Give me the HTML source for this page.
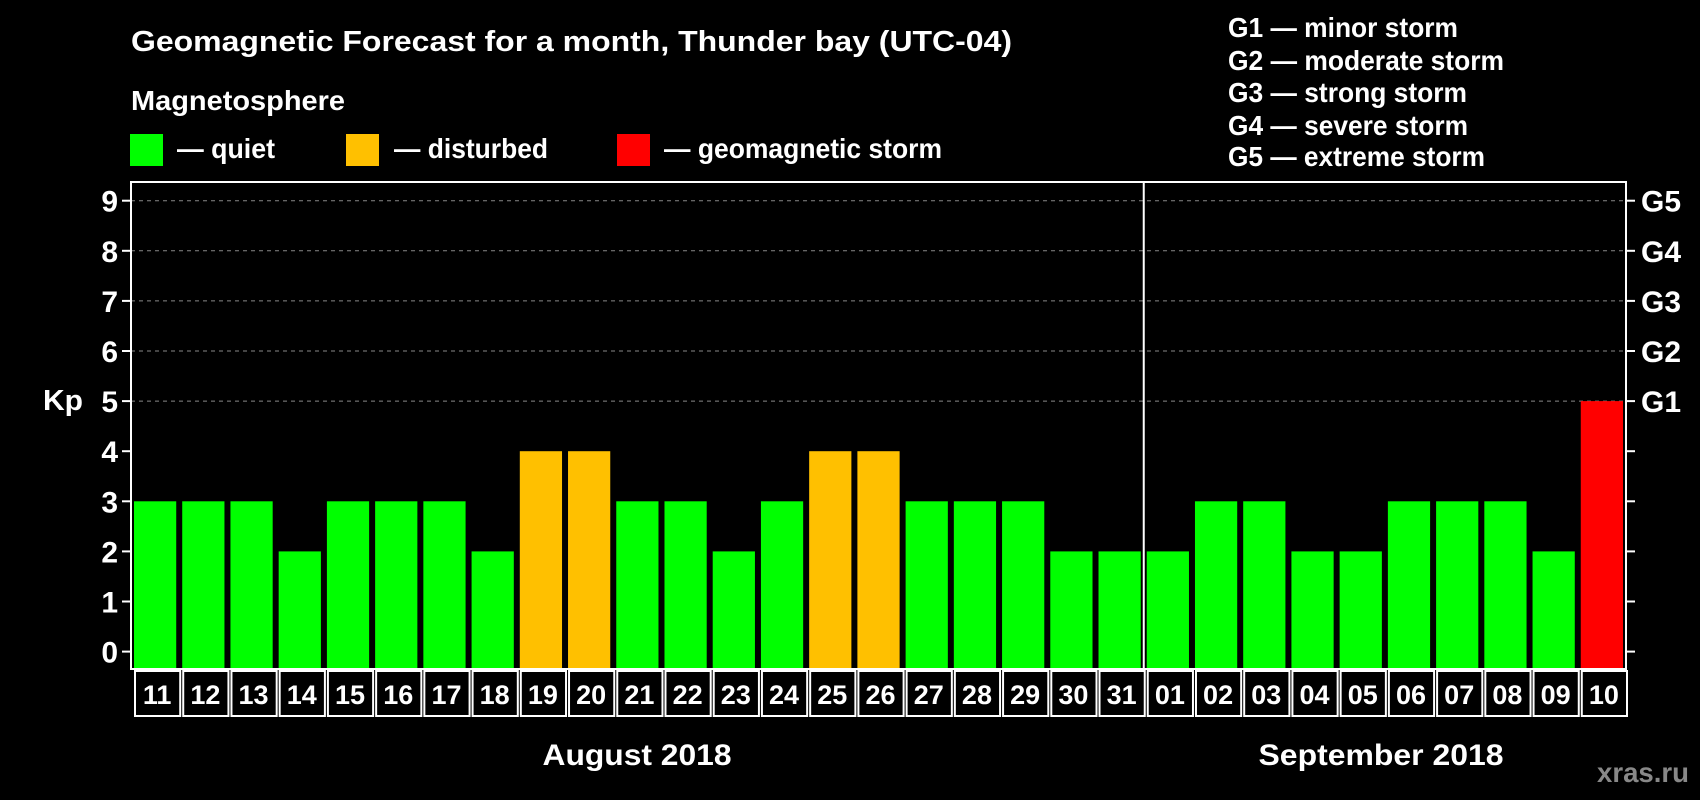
<!DOCTYPE html>
<html><head><meta charset="utf-8"><style>
html,body{margin:0;padding:0;background:#000;}
svg{display:block;font-family:"Liberation Sans",Arial,sans-serif;font-weight:bold;}
</style></head><body>
<svg id="chart" width="1700" height="800" viewBox="0 0 1700 800">
<rect x="0" y="0" width="1700" height="800" fill="#000"/>
<text x="131" y="51" fill="#fff" font-size="29" textLength="881" lengthAdjust="spacingAndGlyphs">Geomagnetic Forecast for a month, Thunder bay (UTC-04)</text>
<text x="131" y="110" fill="#fff" font-size="28" textLength="214" lengthAdjust="spacingAndGlyphs">Magnetosphere</text>
<g><rect x="130" y="134" width="33" height="32" fill="#00ff00"/><text x="177" y="158" fill="#fff" font-size="28" textLength="98" lengthAdjust="spacingAndGlyphs">— quiet</text></g>
<g><rect x="346" y="134" width="33" height="32" fill="#ffc000"/><text x="394" y="158" fill="#fff" font-size="28" textLength="154" lengthAdjust="spacingAndGlyphs">— disturbed</text></g>
<g><rect x="617" y="134" width="33" height="32" fill="#ff0000"/><text x="664" y="158" fill="#fff" font-size="28" textLength="278" lengthAdjust="spacingAndGlyphs">— geomagnetic storm</text></g>
<g fill="#fff" font-size="28">
<text x="1228" y="37" textLength="230" lengthAdjust="spacingAndGlyphs">G1 — minor storm</text>
<text x="1228" y="70" textLength="276" lengthAdjust="spacingAndGlyphs">G2 — moderate storm</text>
<text x="1228" y="102" textLength="239" lengthAdjust="spacingAndGlyphs">G3 — strong storm</text>
<text x="1228" y="135" textLength="240" lengthAdjust="spacingAndGlyphs">G4 — severe storm</text>
<text x="1228" y="166" textLength="257" lengthAdjust="spacingAndGlyphs">G5 — extreme storm</text>
</g>
<text x="43" y="410" fill="#fff" font-size="29" textLength="40" lengthAdjust="spacingAndGlyphs">Kp</text>
<g id="grid"></g><g id="bars"></g><g id="axes"></g>
<text x="637" y="765" fill="#fff" font-size="30" text-anchor="middle" textLength="189" lengthAdjust="spacingAndGlyphs">August 2018</text>
<text x="1381" y="765" fill="#fff" font-size="30" text-anchor="middle" textLength="245" lengthAdjust="spacingAndGlyphs">September 2018</text>
<text x="1689" y="782" fill="#888" font-size="28" text-anchor="end" textLength="92" lengthAdjust="spacingAndGlyphs">xras.ru</text>
</svg>
<script>
const days=["11","12","13","14","15","16","17","18","19","20","21","22","23","24","25","26","27","28","29","30","31","01","02","03","04","05","06","07","08","09","10"];
const kpValues=[3,3,3,2,3,3,3,2,4,4,3,3,2,3,4,4,3,3,3,2,2,2,3,3,2,2,3,3,3,2,5];
const yTicks=[0,1,2,3,4,5,6,7,8,9];
const gLabels=["","","","","","G1","G2","G3","G4","G5"];
const monthBreakIndex=21;
const NS="http://www.w3.org/2000/svg";
const L=131,R=1626,T=182,B=669;
const pitch=(R-L)/days.length;
const y=v=>651.6-v*50.1;
const x=i=>L+i*pitch;
function mk(tag,attrs,parent){const e=document.createElementNS(NS,tag);for(const k in attrs)e.setAttribute(k,attrs[k]);parent.appendChild(e);return e;}
const grid=document.getElementById('grid'),bars=document.getElementById('bars'),axes=document.getElementById('axes');
yTicks.forEach((t,i)=>{
  if(t>=5){const g=mk('line',{x1:L,x2:R,y1:y(t),y2:y(t),stroke:'#888','stroke-dasharray':'4,4','stroke-width':1},grid);
  
  }
  mk('line',{x1:L-9,x2:L,y1:y(t),y2:y(t),stroke:'#fff','stroke-width':2},axes);
  mk('line',{x1:R,x2:R+9,y1:y(t),y2:y(t),stroke:'#fff','stroke-width':2},axes);
  const lt=mk('text',{x:L-13,y:y(t)+11,fill:'#fff','font-size':30,'text-anchor':'end'},axes);lt.textContent=t;
  
  
  if(gLabels[i]){const gt=mk('text',{x:R+15,y:y(t)+11,fill:'#fff','font-size':30},axes);gt.textContent=gLabels[i];
  
  }
});
kpValues.forEach((v,i)=>{
  const c=v>=5?'#ff0000':(v>=4?'#ffc000':'#00ff00');
  const b=mk('rect',{x:x(i)+3,y:y(v),width:pitch-6,height:B-y(v)-1,fill:c},bars);
  
  
  const cell=mk('rect',{x:x(i)+4,y:B+2,width:pitch-3,height:45,fill:'none',stroke:'#fff','stroke-width':2},axes);
  
  
  const tl=mk('text',{x:x(i)+pitch/2+2,y:B+35,fill:'#fff','font-size':27,'text-anchor':'middle'},axes);tl.textContent=days[i];
  
  
});
const frame=mk('rect',{x:L,y:T,width:R-L,height:B-T,fill:'none',stroke:'#fff','stroke-width':2},axes);


const div=mk('line',{x1:x(monthBreakIndex),x2:x(monthBreakIndex),y1:T,y2:B,stroke:'#fff','stroke-width':2},axes);


</script>
</body></html>
